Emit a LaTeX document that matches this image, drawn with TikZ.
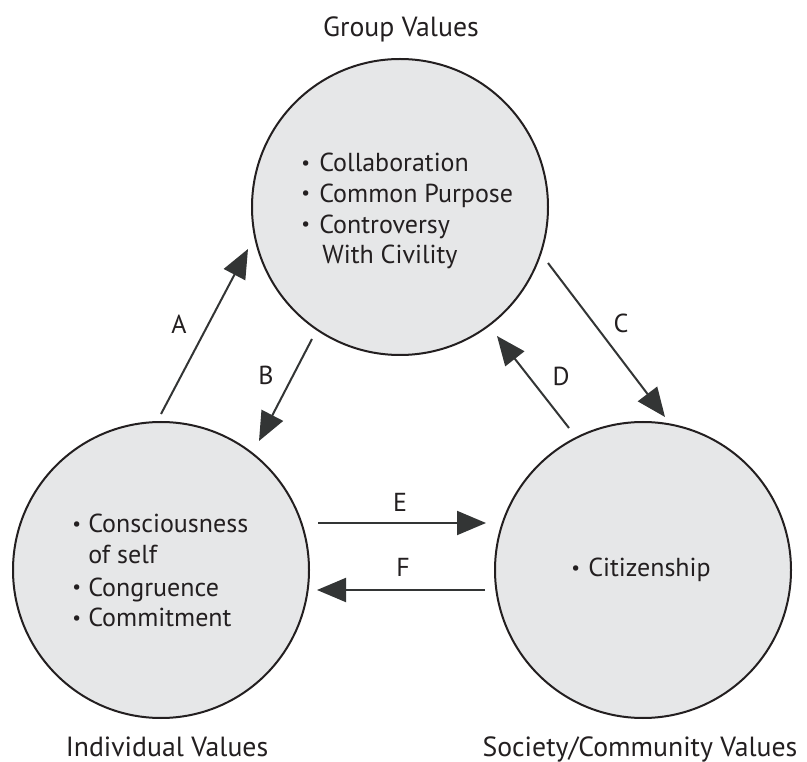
\documentclass[tikz,border=0pt]{standalone}
\usepackage{fontspec}
\setmainfont{PT Sans}
\usetikzlibrary{arrows.meta}
\definecolor{fillgray}{HTML}{E6E7E8}
\definecolor{ink}{HTML}{231F20}
\definecolor{arrowc}{HTML}{333535}
\newcommand{\smallbul}{{\fontsize{14.5}{14}\selectfont\raisebox{1.9pt}{•}}}
\begin{document}
\begin{tikzpicture}[x=0.75pt,y=-0.75pt,
  valcircle/.style={circle, draw=ink, line width=1.5pt, fill=fillgray, minimum size=222pt, inner sep=0pt},
  item/.style={anchor=base west, inner sep=0pt, text=ink, font=\fontsize{19.5}{23}\selectfont},
  title/.style={anchor=base, inner sep=0pt, text=ink, font=\fontsize{20.8}{24}\selectfont},
  lbl/.style={anchor=center, inner sep=0pt, text=ink, font=\fontsize{19.5}{23}\selectfont},
  flow/.style={draw=arrowc, line width=1.5pt, -{Triangle[length=21.75pt,width=18pt]}}]
\useasboundingbox (0,0) rectangle (807,762);
% circles
\node[valcircle] (grp) at (400,207) {};
\node[valcircle] (ind) at (161,570) {};
\node[valcircle] (soc) at (643,570) {};
% titles
\node[title] (tgrp) at (401,36.7) {Group Values};
\node[title] (tind) at (167,756) {Individual Values};
\node[title] (tsoc) at (640,756) {Society/Community Values};
% group items
\node[item] (gb1) at (301,171.7) {\smallbul};
\node[item] (gt1) at (319,171.7) {Collaboration};
\node[item] (gb2) at (301,202.3) {\smallbul};
\node[item] (gt2) at (319,202.3) {Common Purpose};
\node[item] (gb3) at (301,233.3) {\smallbul};
\node[item] (gt3) at (319,233.3) {Controversy};
\node[item] (gt4) at (322,263.3) {With Civility};
% individual items
\node[item] (ib1) at (72,532.7) {\smallbul};
\node[item] (it1) at (88,532.7) {Consciousness};
\node[item] (it2) at (88,564) {of self};
\node[item] (ib3) at (72,596) {\smallbul};
\node[item] (it3) at (88,596) {Congruence};
\node[item] (ib4) at (72,626.7) {\smallbul};
\node[item] (it4) at (88,626.7) {Commitment};
% society items
\node[item] (sb1) at (571,576.7) {\smallbul};
\node[item] (st1) at (588,576.7) {Citizenship};
% arrow end points
\coordinate (A0) at (161,414); \coordinate (A1) at (248,249);
\coordinate (B0) at (312,339); \coordinate (B1) at (259,441);
\coordinate (C0) at (548,263); \coordinate (C1) at (665,417);
\coordinate (D0) at (569,428); \coordinate (D1) at (497,336);
\coordinate (E0) at (318,523); \coordinate (E1) at (486,523);
\coordinate (F0) at (485,590); \coordinate (F1) at (317,590);
\draw[flow] (A0) -- (A1);
\draw[flow] (B0) -- (B1);
\draw[flow] (C0) -- (C1);
\draw[flow] (D0) -- (D1);
\draw[flow] (E0) -- (E1);
\draw[flow] (F0) -- (F1);
% arrow labels
\node[lbl] (la) at (179,324) {A};
\node[lbl] (lb) at (266,375) {B};
\node[lbl] (lc) at (621,323) {C};
\node[lbl] (ld) at (561,376) {D};
\node[lbl] (le) at (400,502) {E};
\node[lbl] (lf) at (403,567) {F};
\end{tikzpicture}
\end{document}
